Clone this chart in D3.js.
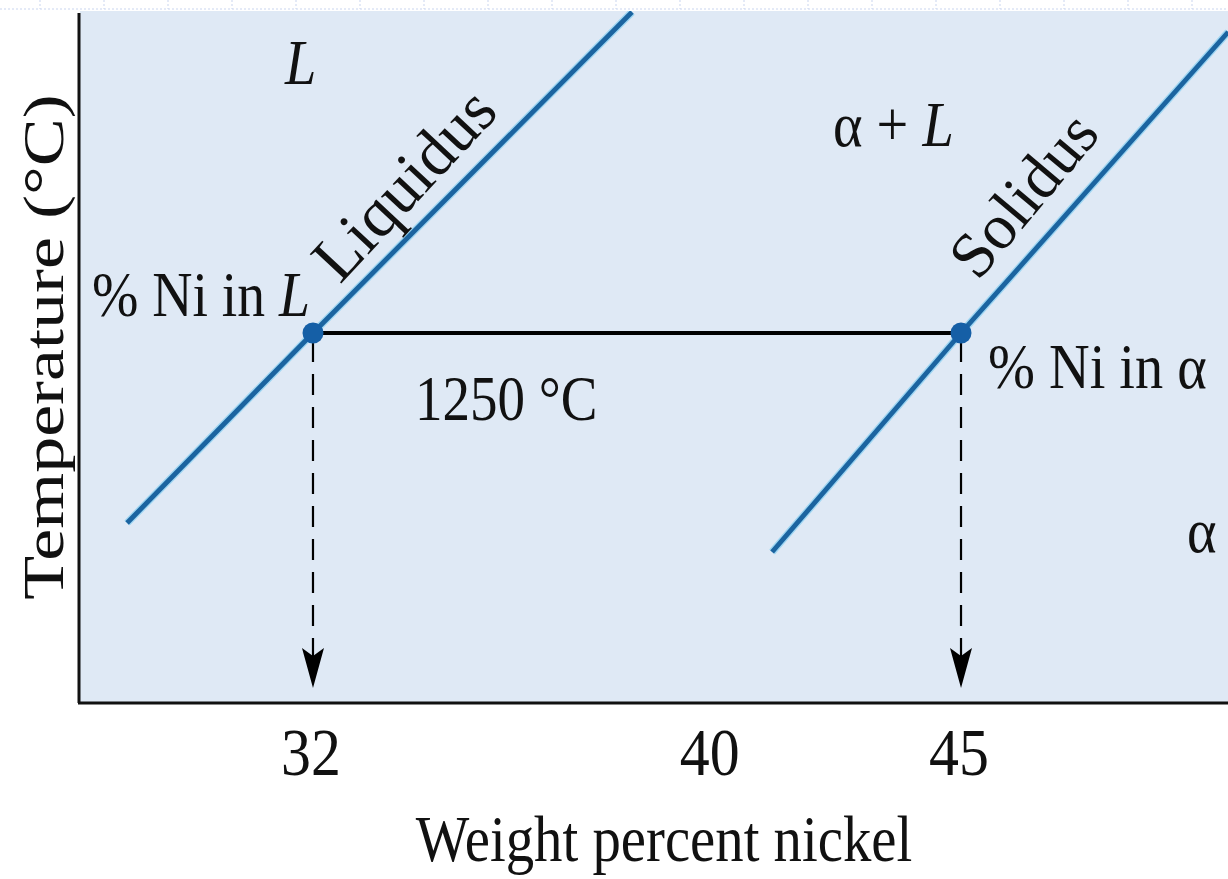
<!DOCTYPE html>
<html>
<head>
<meta charset="utf-8">
<script src="https://cdn.jsdelivr.net/npm/d3@7"></script>
<style>
  html, body { margin: 0; padding: 0; background: #ffffff; }
  svg { display: block; }
  text { font-family: "Liberation Serif", "Times New Roman", serif; fill: #111; }
</style>
</head>
<body>
<svg id="chart" width="1228" height="879"></svg>
<script>
// ---- data ----
const xTicks = [32, 40, 45];
const xTickLabels = ["32", "40", "45"];
const liquidus = [[28.27, 1212.0], [32, 1250], [38.40, 1314.2]];
const solidus = [[41.21, 1206.2], [45, 1250], [50.36, 1310.2]];
const tieTemp = 1250;
const tieEnds = [32, 45];
const arrowBottomTemp = 1179;
const regionLabels = ["L", "α + L", "α"];

const svg = d3.select("#chart");
const W = 1228, H = 879;
const plot = { left: 80, right: 1228, top: 11, bottom: 703 };

const x = d3.scaleLinear().domain([27.326, 50.356]).range([plot.left, plot.right]);
const y = d3.scaleLinear().domain([1176, 1314.2]).range([plot.bottom, plot.top + 1]);

// top decorative strip
svg.append("line").attr("x1", 0).attr("x2", W).attr("y1", 9).attr("y2", 9)
  .attr("stroke", "#c9d5ef").attr("stroke-width", 1).attr("stroke-dasharray", "2,2");
svg.selectAll("line.vdec").data(d3.range(40, W, 64)).enter().append("line")
  .attr("class", "vdec").attr("x1", d => d).attr("x2", d => d).attr("y1", 0).attr("y2", 9)
  .attr("stroke", "#c9d5ef").attr("stroke-width", 1).attr("stroke-dasharray", "2,2");

// plot background
svg.append("rect").attr("x", plot.left).attr("y", plot.top)
  .attr("width", plot.right - plot.left).attr("height", plot.bottom - plot.top)
  .attr("fill", "#dfe9f5");

const defs = svg.append("defs");
defs.append("clipPath").attr("id", "clip").append("rect")
  .attr("x", plot.left).attr("y", plot.top)
  .attr("width", plot.right - plot.left).attr("height", plot.bottom - plot.top);

const g = svg.append("g").attr("clip-path", "url(#clip)");
const line = d3.line().x(d => x(d[0])).y(d => y(d[1]));

// phase boundary lines with a light halo
[liquidus, solidus].forEach(pts => {
  g.append("path").datum(pts).attr("d", line).attr("fill", "none")
    .attr("stroke", "#9fd6f2").attr("stroke-width", 7.5);
  g.append("path").datum(pts).attr("d", line).attr("fill", "none")
    .attr("stroke", "#1b64a0").attr("stroke-width", 4.8);
});

// tie line
g.append("line")
  .attr("x1", x(tieEnds[0])).attr("x2", x(tieEnds[1]))
  .attr("y1", y(tieTemp)).attr("y2", y(tieTemp))
  .attr("stroke", "#000").attr("stroke-width", 4);

// dashed drop lines with arrowheads
tieEnds.forEach(v => {
  const tipY = y(arrowBottomTemp);
  g.append("line")
    .attr("x1", x(v)).attr("x2", x(v))
    .attr("y1", y(tieTemp) + 8).attr("y2", tipY - 30)
    .attr("stroke", "#000").attr("stroke-width", 2.2)
    .attr("stroke-dasharray", "21,12");
  g.append("path")
    .attr("d", `M${x(v)},${tipY} L${x(v) - 11},${tipY - 40} L${x(v)},${tipY - 32} L${x(v) + 11},${tipY - 40} Z`)
    .attr("fill", "#000");
});

// points at tie-line ends
g.selectAll("circle.pt").data(tieEnds).enter().append("circle")
  .attr("class", "pt").attr("cx", d => x(d)).attr("cy", y(tieTemp)).attr("r", 10.5)
  .attr("fill", "#155fa6");

// axes
const xAxis = d3.axisBottom(x).tickValues(xTicks).tickFormat((d, i) => xTickLabels[i])
  .tickSize(0).tickPadding(0);
const ax = svg.append("g").attr("transform", `translate(0,${plot.bottom})`).call(xAxis);
ax.select(".domain").remove();
ax.selectAll("text")
  .attr("y", 72).attr("dy", null)
  .attr("transform", "scale(0.88,1)")
  .attr("x", 0)
  .style("font-size", "68px").style("font-family", "'Liberation Serif', serif")
  .attr("fill", "#111");
ax.selectAll(".tick").each(function(d) {
  d3.select(this).attr("transform", `translate(${x(d) - 2},0)`);
});

svg.append("line").attr("x1", plot.left - 2).attr("x2", plot.right)
  .attr("y1", plot.bottom).attr("y2", plot.bottom)
  .attr("stroke", "#111").attr("stroke-width", 3);
svg.append("line").attr("x1", plot.left - 1).attr("x2", plot.left - 1)
  .attr("y1", plot.top + 2).attr("y2", plot.bottom)
  .attr("stroke", "#111").attr("stroke-width", 3);

// text helper with horizontal compression
function txt(parent, px, py, sx, size, anchor) {
  return parent.append("text")
    .attr("transform", `translate(${px},${py}) scale(${sx},1)`)
    .attr("text-anchor", anchor || "start")
    .style("font-size", size + "px");
}

// axis titles
txt(svg, 664, 861, 0.86, 66, "middle").text("Weight percent nickel");
svg.append("text")
  .attr("transform", "translate(63,347) rotate(-90) scale(1,0.8)")
  .attr("text-anchor", "middle").style("font-size", "72px")
  .text("Temperature (°C)");

// region labels
txt(svg, 285, 84, 0.88, 64).append("tspan").style("font-style", "italic").text(regionLabels[0]);
const al = txt(svg, 833, 146, 0.88, 64);
al.append("tspan").text("α + ");
al.append("tspan").style("font-style", "italic").text("L");
txt(svg, 1187, 552, 0.88, 64).text(regionLabels[2]);

// point labels
const nl = txt(svg, 92, 316, 0.87, 64);
nl.append("tspan").text("% Ni in ");
nl.append("tspan").style("font-style", "italic").text("L");
txt(svg, 988, 388, 0.88, 64).text("% Ni in α");
txt(svg, 415, 420, 0.86, 64).text("1250 °C");

// line labels
svg.append("text").attr("transform", "translate(340,285) rotate(-47)")
  .style("font-size", "66px").text("Liquidus");
svg.append("text").attr("transform", "translate(978,282) rotate(-50)")
  .style("font-size", "64px").text("Solidus");
</script>
</body>
</html>
